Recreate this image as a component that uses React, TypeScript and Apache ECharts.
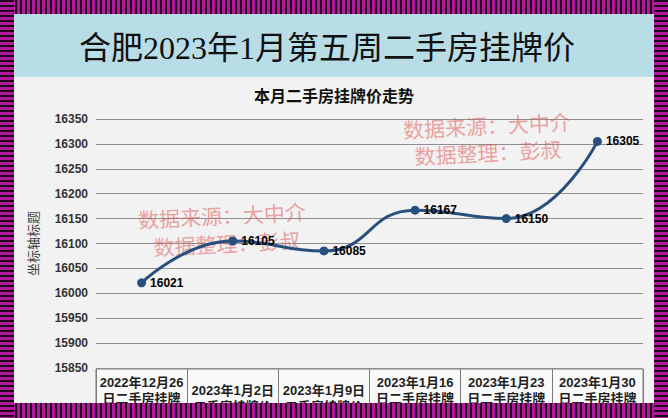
import React, { useEffect, useRef } from "react";
import * as echarts from "echarts";

const mainTitle = "合肥2023年1月第五周二手房挂牌价";
const chartTitle = "本月二手房挂牌价走势";
const yAxisName = "坐标轴标题";
const categories = [
  "2022年12月26日二手房挂牌价",
  "2023年1月2日二手房挂牌价",
  "2023年1月9日二手房挂牌价",
  "2023年1月16日二手房挂牌价",
  "2023年1月23日二手房挂牌价",
  "2023年1月30日二手房挂牌价",
];
const prices = [16021, 16105, 16085, 16167, 16150, 16305];
const yMin = 15850;
const yMax = 16350;
const yStep = 50;
const watermarkLines = ["数据来源：大中介", "数据整理：彭叔"];

const W = 668;
const H = 418;
const MAGENTA = "#b3179c";
const DARK = "#1c0a18";

export default function App() {
  const ref = useRef<HTMLDivElement>(null);
  useEffect(() => {
    if (!ref.current) return;
    const chart = echarts.init(ref.current, null, { renderer: "svg", width: W, height: H });
    const cjk = '"Liberation Sans", "Noto Sans CJK SC", sans-serif';
    const wmFont = '21px "Liberation Serif", "Noto Sans CJK SC", serif';
    const wmColor = "rgba(226, 88, 88, 0.55)";
    const wm = (cx: number, cy: number, text: string) => ({
      type: "text",
      x: cx,
      y: cy,
      rotation: 0.05,
      z: 1,
      style: { text, font: wmFont, fill: wmColor, align: "center", verticalAlign: "middle" },
    });
    chart.setOption({
      animation: false,
      backgroundColor: "#f2f2f2",
      graphic: [
        { type: "rect", z: 0, shape: { x: 14, y: 14, width: 640, height: 63 }, style: { fill: "#b8dde7" } },
        {
          type: "text",
          x: 327,
          y: 48,
          z: 5,
          style: {
            text: mainTitle,
            font: '32px "Liberation Serif", "Noto Sans CJK SC", serif',
            fill: "#111",
            align: "center",
            verticalAlign: "middle",
          },
        },
        {
          type: "text",
          x: 334,
          y: 95,
          z: 5,
          style: {
            text: chartTitle,
            font: 'bold 16px "Noto Sans CJK SC", sans-serif',
            fill: "#111",
            align: "center",
            verticalAlign: "middle",
          },
        },
        wm(222, 217, watermarkLines[0]),
        wm(227, 245, watermarkLines[1]),
        wm(487, 127, watermarkLines[0]),
        wm(488, 154, watermarkLines[1]),
      ],
      grid: [
        { left: 96, right: 25, top: 119, height: 249 },
        {
          left: 96,
          right: 25,
          top: 369,
          bottom: 0,
          show: true,
          backgroundColor: "#f9f9f9",
          borderColor: "#7a7a7a",
          borderWidth: 1,
        },
      ],
      xAxis: [
        {
          type: "category",
          gridIndex: 0,
          data: categories,
          boundaryGap: true,
          axisLine: { show: false },
          axisTick: { show: false },
          axisLabel: { show: false },
          splitLine: { show: false },
        },
        {
          type: "category",
          gridIndex: 1,
          position: "top",
          data: categories,
          boundaryGap: true,
          axisLine: { show: false },
          axisTick: { show: false },
          splitLine: { show: true, lineStyle: { color: "#7a7a7a", width: 1 } },
          axisLabel: {
            inside: true,
            margin: 29,
            verticalAlign: "middle",
            align: "center",
            width: 88,
            overflow: "break",
            lineHeight: 16,
            fontSize: 13,
            fontWeight: "bold",
            color: "#1f1f1f",
            fontFamily: cjk,
            interval: 0,
          },
        },
      ],
      yAxis: [
        {
          type: "value",
          gridIndex: 0,
          min: yMin,
          max: yMax,
          interval: yStep,
          name: yAxisName,
          nameLocation: "middle",
          nameRotate: 90,
          nameGap: 56,
          nameTextStyle: { fontSize: 13, color: "#404040", fontFamily: cjk },
          axisLine: { show: false },
          axisTick: { show: false },
          axisLabel: {
            margin: 8,
            fontSize: 12,
            fontWeight: "bold",
            color: "#333",
            fontFamily: cjk,
            formatter: (v: number) => String(v),
          },
          splitLine: { show: true, lineStyle: { color: "#8f8f8f", width: 1.2 } },
        },
        {
          type: "value",
          gridIndex: 1,
          show: false,
          splitLine: { show: false },
        },
      ],
      series: [
        {
          type: "line",
          xAxisIndex: 0,
          yAxisIndex: 0,
          data: prices,
          smooth: 0.5,
          z: 5,
          symbol: "circle",
          symbolSize: 9,
          itemStyle: { color: "#27507f" },
          lineStyle: { color: "#27507f", width: 3 },
          label: {
            show: true,
            position: "right",
            distance: 4,
            fontSize: 12,
            fontWeight: "bold",
            color: "#000",
            fontFamily: cjk,
          },
        },
      ],
    });
    return () => chart.dispose();
  }, []);

  const stripeH = `repeating-linear-gradient(90deg, ${DARK} 0px, ${DARK} 2px, ${MAGENTA} 2px, ${MAGENTA} 5px)`;
  const stripeV = `repeating-linear-gradient(180deg, ${DARK} 0px, ${DARK} 2px, ${MAGENTA} 2px, ${MAGENTA} 5px)`;
  const bar = (s: React.CSSProperties): React.CSSProperties => ({ position: "absolute", pointerEvents: "none", ...s });

  return (
    <div style={{ position: "fixed", left: 0, top: 0, width: W, height: H, overflow: "hidden" }}>
      <div ref={ref} style={{ position: "absolute", left: 0, top: 0, width: W, height: H }} />
      <div style={bar({ left: 0, top: 0, width: W, height: 14, background: stripeH })} />
      <div style={bar({ left: 0, top: 403, width: W, height: 15, background: stripeH })} />
      <div style={bar({ left: 0, top: 0, width: 14, height: H, background: stripeV })} />
      <div style={bar({ left: 654, top: 0, width: 14, height: H, background: stripeV })} />
    </div>
  );
}
